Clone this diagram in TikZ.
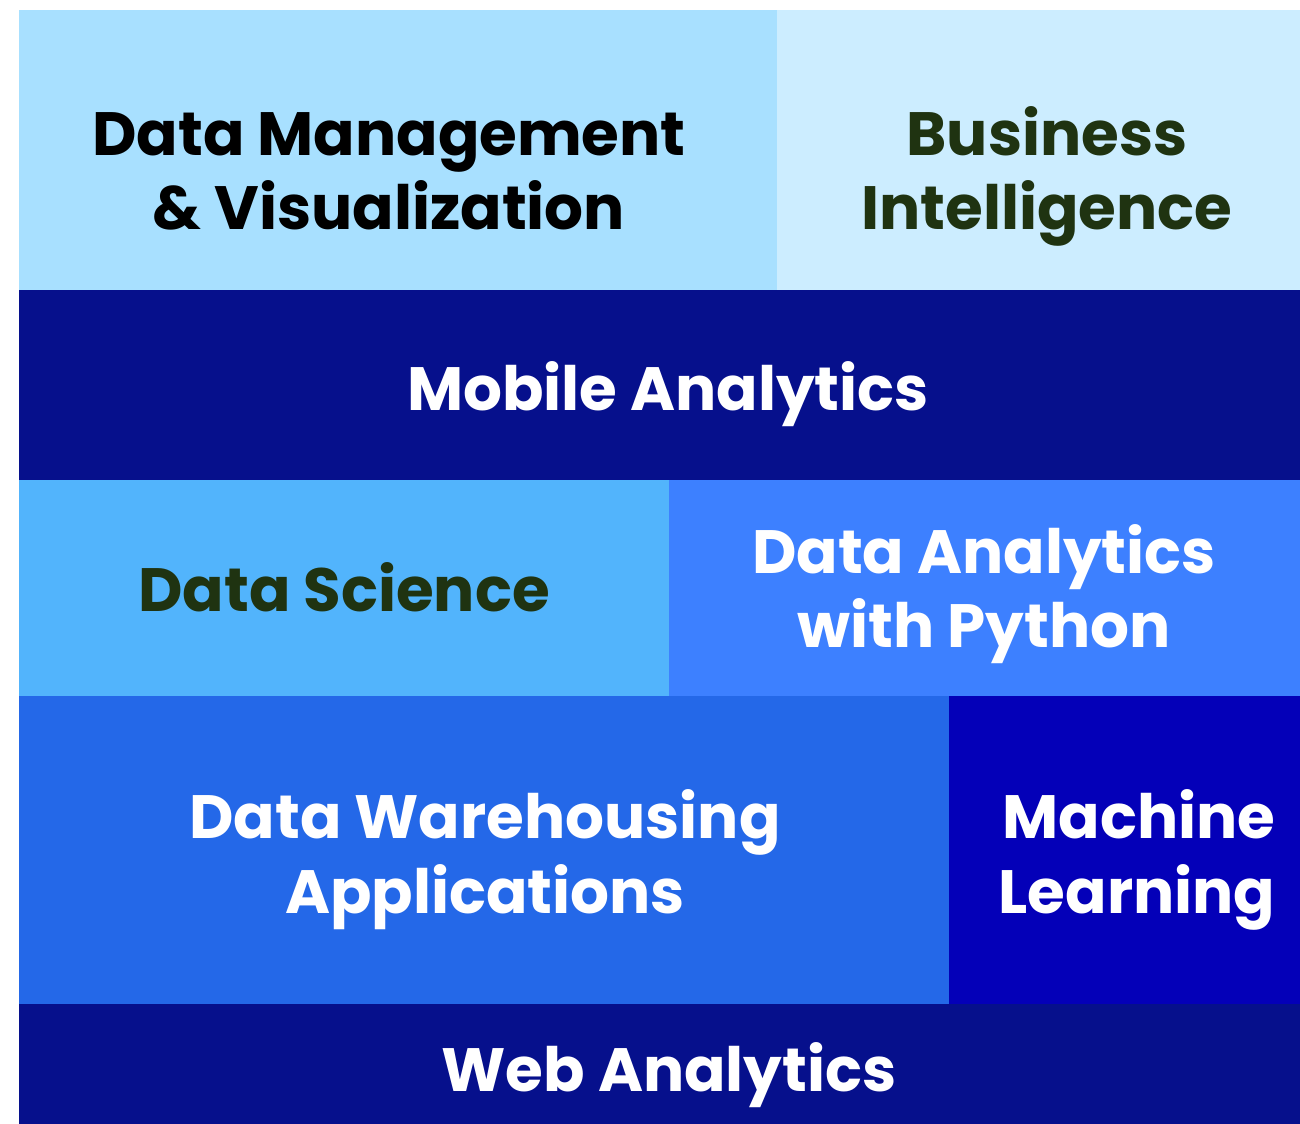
\documentclass[tikz,border=0pt]{standalone}
\usepackage{fontspec}
\setmainfont{Poppins}[BoldFont={* Bold}]
\usepackage{tikz}
\definecolor{skylight}{HTML}{A8E0FF}
\definecolor{skypale}{HTML}{CCEDFF}
\definecolor{navy}{HTML}{06108C}
\definecolor{azure}{HTML}{52B4FC}
\definecolor{cornblue}{HTML}{3D80FF}
\definecolor{royal}{HTML}{2468E8}
\definecolor{deepblue}{HTML}{0400B8}
\definecolor{darkolive}{HTML}{1F3311}

\tikzset{
  tile/.style={rectangle,inner sep=0pt,outer sep=0pt},
  caption/.style={align=center,font=\fontsize{17.4}{21.3}\selectfont\bfseries,inner sep=0pt,anchor=base}
}

\begin{document}
\begin{tikzpicture}
\useasboundingbox (0,0) rectangle (13,-11.24);

% tiles
\node[tile,fill=skylight,minimum width=7.58cm,minimum height=2.8cm] (dmv) at (3.98,-1.50) {};
\node[tile,fill=skypale,minimum width=5.23cm,minimum height=2.8cm] (bi) at (10.385,-1.50) {};
\node[tile,fill=navy,minimum width=12.81cm,minimum height=1.9cm] (mob) at (6.595,-3.85) {};
\node[tile,fill=azure,minimum width=6.5cm,minimum height=2.16cm] (ds) at (3.44,-5.88) {};
\node[tile,fill=cornblue,minimum width=6.31cm,minimum height=2.16cm] (dap) at (9.845,-5.88) {};
\node[tile,fill=royal,minimum width=9.3cm,minimum height=3.08cm] (dwa) at (4.84,-8.50) {};
\node[tile,fill=deepblue,minimum width=3.51cm,minimum height=3.08cm] (ml) at (11.245,-8.50) {};
\node[tile,fill=navy,minimum width=12.81cm,minimum height=1.2cm] (web) at (6.595,-10.64) {};

% captions (baseline of last line)
\node[caption,text=black] (dmvT) at (3.89,-2.30) {Data Management\\\& Visualization};
\node[caption,text=darkolive] (biT) at (10.47,-2.30) {Business\\Intelligence};
\node[caption,text=white] (mobT) at (6.68,-4.11) {Mobile Analytics};
\node[caption,text=darkolive] (dsT) at (3.44,-6.11) {Data Science};
\node[caption,text=white] (dapT) at (9.84,-6.48) {Data Analytics\\with Python};
\node[caption,text=white] (dwaT) at (4.85,-9.13) {Data Warehousing\\Applications};
\node[caption,text=white,align=right,anchor=base east] (mlT) at (12.76,-9.13) {Machine\\Learning};
\node[caption,text=white] (webT) at (6.69,-10.91) {Web Analytics};
\end{tikzpicture}
\end{document}
